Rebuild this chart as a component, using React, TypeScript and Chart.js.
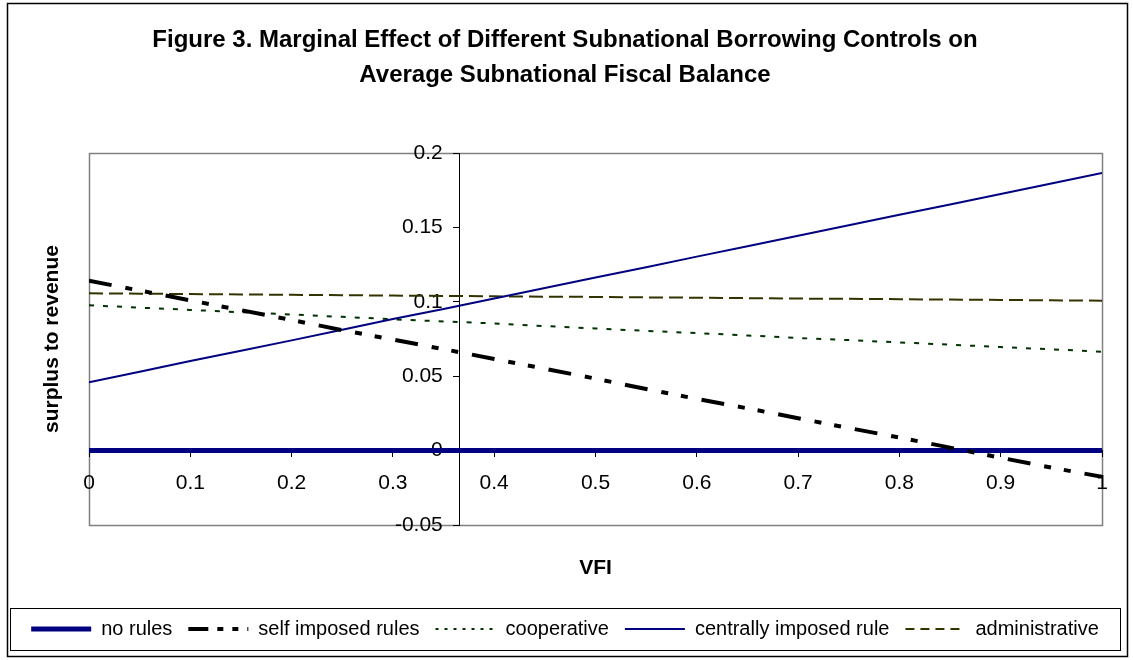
import React, { useEffect, useRef } from 'react';
import { Chart, registerables } from 'chart.js';

Chart.register(...registerables);

const FONT = "'Liberation Sans', Arial, Helvetica, sans-serif";

// VFI values (x)
const vfi = [0, 0.05, 0.1, 0.15, 0.2, 0.25, 0.3, 0.35, 0.4, 0.45, 0.5, 0.55, 0.6, 0.65, 0.7, 0.75, 0.8, 0.85, 0.9, 0.95, 1];

// Series values
const noRules = [0, 0, 0, 0, 0, 0, 0, 0, 0, 0, 0, 0, 0, 0, 0, 0, 0, 0, 0, 0, 0];
const selfImposed = [0.1142, 0.1076, 0.1010, 0.0944, 0.0878, 0.0810, 0.0746, 0.0682, 0.0616, 0.0550, 0.0484, 0.0414, 0.0348, 0.0284, 0.0218, 0.0152, 0.0088, 0.0020, -0.0048, -0.0114, -0.0176];
const cooperative = [0.0977, 0.0961, 0.0946, 0.0930, 0.0915, 0.0899, 0.0883, 0.0868, 0.0855, 0.0837, 0.0821, 0.0805, 0.0790, 0.0774, 0.0757, 0.0743, 0.0727, 0.0712, 0.0696, 0.0681, 0.0665];
const centrallyImposed = [0.0459, 0.0530, 0.0603, 0.0671, 0.0741, 0.0812, 0.0885, 0.0952, 0.1022, 0.1093, 0.1163, 0.1233, 0.1304, 0.1374, 0.1445, 0.1515, 0.1585, 0.1655, 0.1725, 0.1796, 0.1866];
const administrative = [0.1057, 0.1055, 0.1052, 0.1050, 0.1047, 0.1045, 0.1042, 0.1040, 0.1037, 0.1035, 0.1033, 0.1030, 0.1028, 0.1025, 0.1022, 0.1020, 0.1018, 0.1015, 0.1013, 0.1010, 0.1008];

const seriesLabels = ['no rules', 'self imposed rules', 'cooperative', 'centrally imposed rule', 'administrative'];

// Tick values
const xTickValues = [0, 0.1, 0.2, 0.3, 0.4, 0.5, 0.6, 0.7, 0.8, 0.9, 1];
const yTickValues = [-0.05, 0, 0.05, 0.1, 0.15, 0.2];

const titleLines = ['Figure 3. Marginal Effect of Different Subnational Borrowing Controls on', 'Average Subnational Fiscal Balance'];
const xTitle = 'VFI';
const yTitle = 'surplus to revenue';

const legendDash: number[][] = [[], [20, 9, 6, 9, 6, 9], [3, 6], [], [9, 6]];

const framePlugin = {
  id: 'frame',
  beforeDraw(chart: any) {
    const { ctx, chartArea: a } = chart;
    ctx.save();
    ctx.fillStyle = '#ffffff';
    ctx.fillRect(0, 0, chart.width, chart.height);
    ctx.strokeStyle = '#000000';
    ctx.lineWidth = 1.5;
    ctx.strokeRect(7.5, 3.5, 1120, 653);
    ctx.strokeStyle = '#808080';
    ctx.lineWidth = 1.5;
    ctx.strokeRect(Math.round(a.left) + 0.5, Math.round(a.top) + 0.5, Math.round(a.right - a.left), Math.round(a.bottom - a.top));
    ctx.restore();
    // move the y tick labels off the crossing axis line (labels sit left of the tick marks)
    const ys = chart.scales.y;
    if (ys) {
      const items = ys.getLabelItems();
      if (items && !items._shifted) {
        items.forEach((it: any) => {
          const t = it.options.translation;
          it.options.translation = [t[0] - 17, t[1]];
        });
        items._shifted = true;
      }
    }
  },
  afterDraw(chart: any) {
    const { ctx } = chart;
    ctx.save();
    ctx.strokeStyle = '#000000';
    ctx.lineWidth = 1;
    ctx.strokeRect(10.5, 608.5, 1110, 42);
    ctx.restore();
  },
};

export default function App() {
  const ref = useRef<HTMLCanvasElement>(null);

  useEffect(() => {
    document.body.style.margin = '0';
    const canvas = ref.current;
    if (!canvas) return;
    const mk = (vals: number[]) => vfi.map((x, i) => ({ x, y: vals[i] }));
    const tickFont = { family: FONT, size: 21 };
    const axisTitleFont = { family: FONT, size: 21, weight: 'bold' as const };

    const chart = new Chart(canvas, {
      type: 'line',
      data: {
        datasets: [
          { label: seriesLabels[0], data: mk(noRules), borderColor: '#000080', backgroundColor: '#000080', borderWidth: 5, order: 5 },
          { label: seriesLabels[1], data: mk(selfImposed), borderColor: '#000000', backgroundColor: '#000000', borderWidth: 4, borderDash: [23, 14, 7, 13, 7, 14], order: 0 },
          { label: seriesLabels[2], data: mk(cooperative), borderColor: '#003300', backgroundColor: '#003300', borderWidth: 2, borderDash: [5, 9], order: 2 },
          { label: seriesLabels[3], data: mk(centrallyImposed), borderColor: '#000080', backgroundColor: '#000080', borderWidth: 2, order: 1 },
          { label: seriesLabels[4], data: mk(administrative), borderColor: '#333300', backgroundColor: '#333300', borderWidth: 2, borderDash: [14, 6], order: 3 },
        ].map((d) => ({ ...d, xAxisID: 'x', yAxisID: 'y', pointRadius: 0, tension: 0, fill: false, borderCapStyle: 'butt' as const })),
      },
      options: {
        animation: false,
        responsive: true,
        maintainAspectRatio: false,
        events: [],
        layout: { padding: { top: 0, left: 10, right: 13, bottom: 11 } },
        plugins: {
          tooltip: { enabled: false },
          title: {
            display: true,
            text: titleLines,
            color: '#000',
            font: { family: FONT, size: 24, weight: 'bold', lineHeight: 1.46 },
            padding: { top: 23, bottom: 60 },
          },
          legend: {
            display: true,
            position: 'bottom',
            labels: {
              color: '#000',
              font: { family: FONT, size: 20 },
              padding: 16,
              usePointStyle: true,
              pointStyleWidth: 60,
              generateLabels: (c: any) =>
                c.data.datasets.map((ds: any, i: number) => ({
                  text: ds.label,
                  strokeStyle: ds.borderColor,
                  fillStyle: ds.borderColor,
                  lineWidth: ds.borderWidth,
                  lineDash: legendDash[i],
                  pointStyle: 'line',
                  datasetIndex: i,
                  hidden: false,
                  fontColor: '#000',
                })),
            },
          },
        },
        scales: {
          x: {
            type: 'linear',
            min: 0,
            max: 1,
            position: { y: 0 },
            afterBuildTicks: (s: any) => { s.ticks = xTickValues.map((v) => ({ value: v })); },
            ticks: { callback: (v: any) => String(+Number(v).toFixed(2)), font: tickFont, color: '#000', padding: 14, autoSkip: false, maxRotation: 0 },
            grid: { display: true, drawOnChartArea: false, drawTicks: true, tickLength: 6, color: '#000' },
            border: { display: true, color: '#000' },
          },
          y: {
            type: 'linear',
            min: -0.05,
            max: 0.2,
            position: { x: 0.366 },
            afterBuildTicks: (s: any) => { s.ticks = yTickValues.map((v) => ({ value: v })); },
            ticks: { callback: (v: any) => String(+Number(v).toFixed(2)), font: tickFont, color: '#000', padding: 10, autoSkip: false },
            grid: { display: true, drawOnChartArea: false, drawTicks: true, tickLength: 6, color: '#000' },
            border: { display: true, color: '#000' },
          },
          xTitle: {
            type: 'linear',
            position: 'bottom',
            display: true,
            grid: { display: false },
            border: { display: false },
            ticks: { display: false },
            title: { display: true, text: xTitle, color: '#000', font: axisTitleFont, padding: { top: 0, bottom: 22.4 } },
            afterFit: (s: any) => { s.height = 78; },
          },
          yTitle: {
            type: 'linear',
            position: 'left',
            display: true,
            grid: { display: false },
            border: { display: false },
            ticks: { display: false },
            title: { display: true, text: yTitle, color: '#000', font: axisTitleFont, padding: { top: 29.4, bottom: 0 } },
            afterFit: (s: any) => { s.width = 79; },
          },
          yRight: {
            type: 'linear',
            position: 'right',
            display: true,
            grid: { display: false },
            border: { display: false },
            ticks: { display: false },
            afterFit: (s: any) => { s.width = 18; },
          },
        },
      } as any,
      plugins: [framePlugin],
    });
    return () => chart.destroy();
  }, []);

  return (
    <div style={{ width: 1133, height: 660, position: 'relative' }}>
      <canvas ref={ref} />
    </div>
  );
}
